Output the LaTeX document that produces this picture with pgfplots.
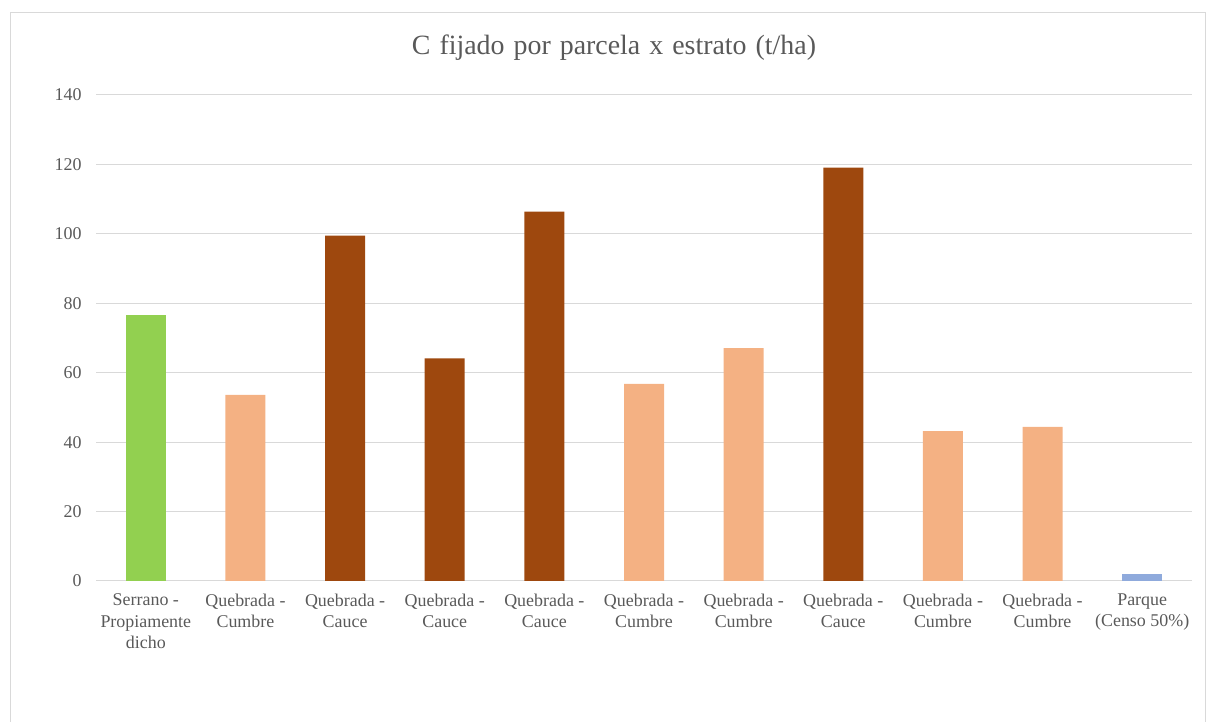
\documentclass[border=0pt]{standalone}
\usepackage{fontspec}
\setmainfont{Liberation Serif}
\usepackage{pgfplots}
\pgfplotsset{compat=1.18}
\definecolor{txt}{HTML}{595959}
\definecolor{gridc}{HTML}{D9D9D9}
\definecolor{serrano}{HTML}{92D050}
\definecolor{cumbre}{HTML}{F4B183}
\definecolor{cauce}{HTML}{9E480E}
\definecolor{parque}{HTML}{8FAADC}
\begin{document}
\begin{tikzpicture}[x=1bp,y=1bp]
\path[use as bounding box] (0,0) rectangle (1207,722);
% chart area frame
\draw[gridc, line width=1bp] (10.5,-5) -- (10.5,709.5) -- (1205.5,709.5) -- (1205.5,-5);
\node[text=txt, font=\fontsize{28}{32}\selectfont] at (614,674)
  {\spaceskip=9bp plus 2bp\relax C fijado por parcela x estrato (t/ha)};
\begin{axis}[
  at={(96bp,141bp)}, anchor=south west,
  width=1096bp, height=486bp, scale only axis,
  xmin=-0.5, xmax=10.5, ymin=0, ymax=140,
  ytick={0,20,...,140},
  xtick={0,...,10},
  xticklabels={{Serrano -\\Propiamente\\dicho},{Quebrada -\\Cumbre},{Quebrada -\\Cauce},{Quebrada -\\Cauce},{Quebrada -\\Cauce},{Quebrada -\\Cumbre},{Quebrada -\\Cumbre},{Quebrada -\\Cauce},{Quebrada -\\Cumbre},{Quebrada -\\Cumbre},{Parque\\(Censo 50\%)}},
  ymajorgrids, grid style={gridc, line width=1bp},
  axis line style={draw=none},
  tick style={draw=none},
  /pgf/number format/assume math mode=true,
  xticklabel style={align=center, text=txt, font=\fontsize{18}{21.5}\selectfont, anchor=north, yshift=-5bp},
  yticklabel style={text=txt, font=\fontsize{18}{20}\selectfont, anchor=east, xshift=-11bp},
  ybar, bar width=40bp, bar shift=0pt,
  every axis plot/.append style={draw=none},
]
% Serrano - Propiamente dicho
\addplot[fill=serrano] coordinates {(0,76.6)};
% Quebrada - Cumbre
\addplot[fill=cumbre] coordinates {(1,53.6) (5,56.8) (6,67.1) (8,43.2) (9,44.4)};
% Quebrada - Cauce
\addplot[fill=cauce] coordinates {(2,99.5) (3,64.1) (4,106.4) (7,119.1)};
% Parque (Censo 50%)
\addplot[fill=parque] coordinates {(10,1.9)};
\end{axis}
\end{tikzpicture}
\end{document}
